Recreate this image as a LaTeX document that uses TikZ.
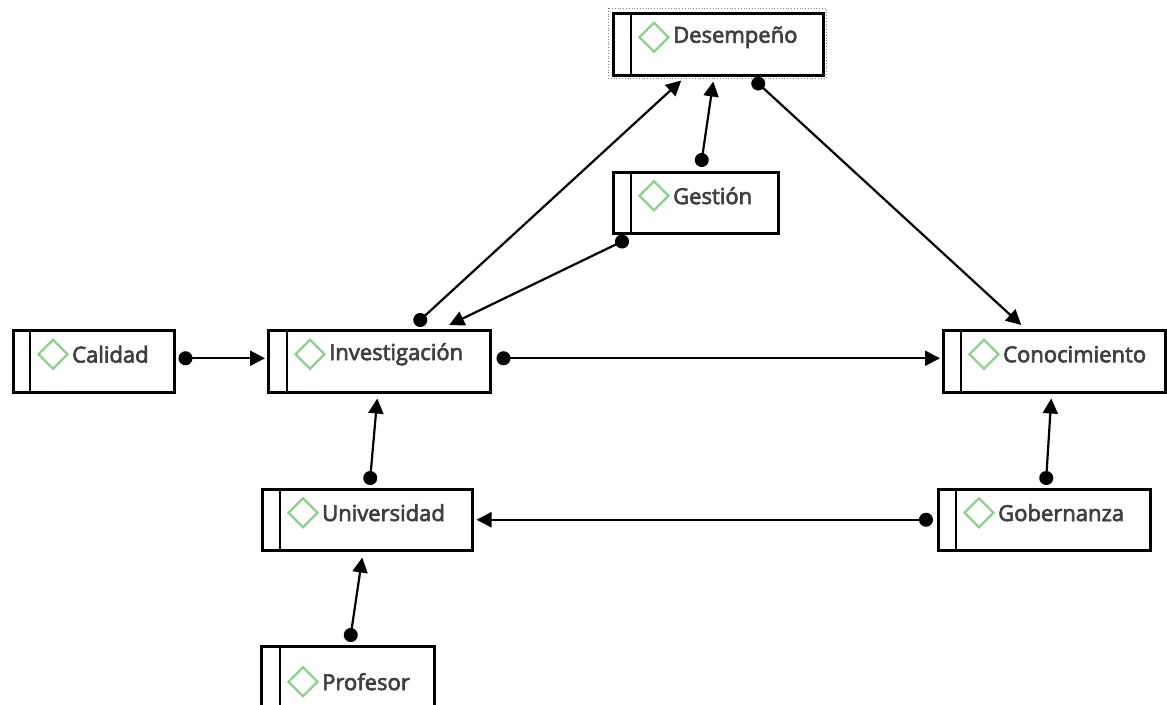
\documentclass[tikz,border=0pt]{standalone}
\usepackage{fontspec}
\setmainfont{Open Sans}
\newfontfamily\lblfont{Open Sans}[FakeBold=3]
\usetikzlibrary{arrows.meta,calc}
\definecolor{txtgray}{HTML}{3F3F3F}
\definecolor{dgreen}{HTML}{8ED08E}
\tikzset{
  box/.style={draw=black, line width=2.5pt, rectangle, inner sep=0pt, anchor=north west, fill=white},
  lbl/.style={anchor=west, inner sep=0pt, text=txtgray, font=\lblfont\fontsize{22}{26}\selectfont},
  conn/.style={line width=2.2pt, {Circle[length=14pt]}-{Triangle[length=15pt,width=15pt]}, shorten <=-7pt},
  diam/.style={draw=dgreen, line width=2.4pt},
}
\newcommand{\mybox}[7]{% name, left, top, right, bottom, divider offset, text
  \node[box, minimum width=#4-#2, minimum height=#5-#3] (#1) at (#2,#3) {};
  \draw[line width=2.5pt] ([xshift=#6pt]#1.north west) -- ([xshift=#6pt]#1.south west);
  \draw[diam] ($(#1.west)+(#6+23,-7)$) ++(-14.5,0) -- ++(14.5,-14.5) -- ++(14.5,14.5) -- ++(-14.5,14.5) -- cycle;
  \node[lbl] (#1-t) at ($(#1.west)+(#6+42,-7)$) {#7};
}
\begin{document}
\begin{tikzpicture}[x=1pt,y=-1pt]
\useasboundingbox (0,0) rectangle (1167,704);
\clip (0,0) rectangle (1167,704);
\draw[gray, dotted, line width=0.8pt] (608,8) rectangle (826,78);
\mybox{des}{612}{12}{822}{74}{19}{Desempeño}
\mybox{ges}{612}{171}{777}{232}{19}{Gestión}
\mybox{cal}{12}{329}{173}{391}{18}{Calidad}
\mybox{inv}{267}{329}{489}{391}{20}{Investigación}
\mybox{con}{942}{329}{1164}{391}{19}{Conocimiento}
\mybox{gob}{937}{488}{1149}{549}{19}{Gobernanza}
\mybox{uni}{261}{488}{471}{549}{19}{Universidad}
\mybox{pro}{260}{645}{433}{730}{20}{Profesor}

\draw[conn] ([shift={(10,-3)}]cal.east) -- ([shift={(-2,-3)}]inv.west);
\draw[conn] ([shift={(12,-3)}]inv.east) -- ([shift={(-2,-3)}]con.west);
\draw[conn] ([shift={(-11,0)}]gob.west) -- ([shift={(3,0)}]uni.east);
\draw[conn] ([shift={(2,-10)}]gob.north) -- ([shift={(-3,5)}]con.south);
\draw[conn] ([shift={(3,-10)}]uni.north) -- ([shift={(-2,5)}]inv.south);
\draw[conn] ([shift={(3,-10)}]pro.north) -- ([shift={(-5,6)}]uni.south);
\draw[conn] ([shift={(41,-9)}]inv.north) -- ([shift={(-37,4)}]des.south);
\draw[conn] ([shift={(10,7)}]ges.south west) -- ([shift={(70,-4)}]inv.north);
\draw[conn] ([shift={(6,-11)}]ges.north) -- ([shift={(-5,5)}]des.south);
\draw[conn] ([shift={(40,7)}]des.south) -- ([shift={(-33,-4)}]con.north);
\end{tikzpicture}
\end{document}
